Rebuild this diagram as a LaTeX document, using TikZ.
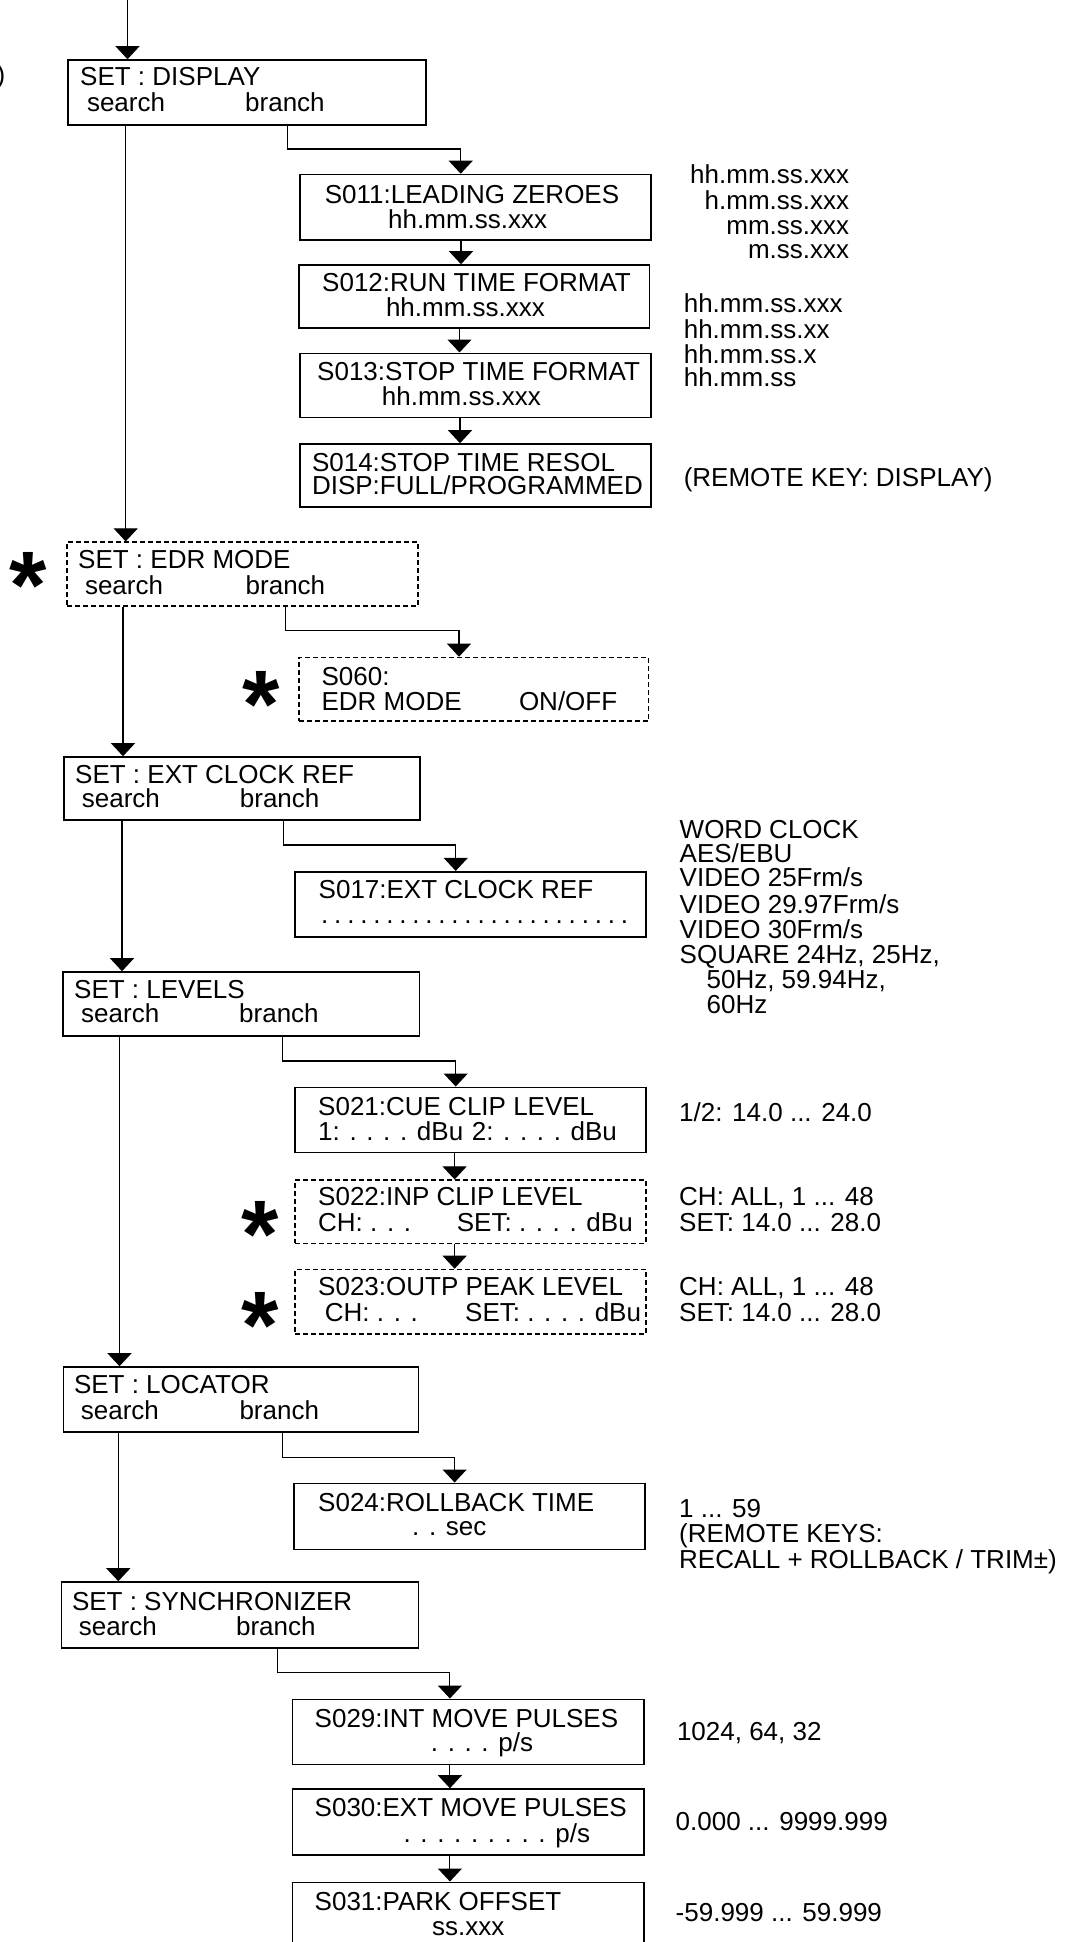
\documentclass[tikz,border=0pt]{standalone}
\usepackage{fontspec}
\setmainfont{Liberation Sans}
\usetikzlibrary{arrows.meta,fit}
\newcommand\fs{\fontsize{26}{30}\selectfont}
\newcommand\dotrow{\foreach \i in {1,...,24}{.\kern5.8pt}}
\tikzset{
 box/.style={draw, line width=1.6pt, inner sep=0pt},
 dbox/.style={draw, line width=1.2pt, dash pattern=on 5pt off 3pt, inner sep=0pt},
 arr/.style={line width=1.1pt, -{Triangle[width=24pt,length=13pt]}},
 t/.style={anchor=base west, inner sep=0pt, font=\fs},
 tr/.style={anchor=base east, inner sep=0pt, font=\fs},
 star/.style={anchor=base, inner sep=0pt, font=\fontsize{96}{96}\selectfont\bfseries},
}
\begin{document}
\begin{tikzpicture}[x=1pt,y=-1pt]
\fill[white] (0,0) rectangle (1072,1942);
\useasboundingbox (0,0) rectangle (1072,1942);

% ---------- boxes ----------
\node[box, fit={(68,60) (426,125)}] (display) {};
\node[dbox, fit={(67,542) (418,606)}] (edr) {};
\node[box, fit={(64,757) (420,820)}] (ext) {};
\node[box, fit={(63,972) (419.5,1036)}] (levels) {};
\node[box, fit={(63.6,1367) (418.4,1432)}] (locator) {};
\node[box, fit={(61.5,1582) (418.4,1648)}] (sync) {};

\node[box, fit={(300,174.5) (651,240)}] (s011) {};
\node[box, fit={(299,265) (649.5,328.3)}] (s012) {};
\node[box, fit={(300,353.3) (651,417.3)}] (s013) {};
\node[box, fit={(300,444) (651,506.7)}] (s014) {};
\node[dbox, fit={(299,657.3) (648.7,721)}] (s060) {};
\node[box, fit={(295,871.7) (646,936.7)}] (s017) {};
\node[box, fit={(295,1087.3) (646,1152.3)}] (s021) {};
\node[dbox, fit={(295,1180) (646,1243.3)}] (s022) {};
\node[dbox, fit={(295,1269.3) (646,1334)}] (s023) {};
\node[box, fit={(294,1483.3) (644.7,1549.3)}] (s024) {};
\node[box, fit={(292.6,1699.3) (644,1764.3)}] (s029) {};
\node[box, fit={(292.6,1789) (644,1855)}] (s030) {};
\node[box, fit={(292.6,1882.3) (644,1980)}] (s031) {};

% ---------- connectors ----------
\coordinate (top) at (127.5,0);
\draw[arr] (top) -- (display.north -| top);

\coordinate (s1) at (125.7,0);
\coordinate (s2) at (123,0);
\coordinate (s3) at (122,0);
\coordinate (s4) at (119.5,0);
\coordinate (s5) at (118.3,0);
\draw[arr] (display.south -| s1) -- (edr.north -| s1);
\draw[arr] (edr.south -| s2) -- (ext.north -| s2);
\draw[arr] (ext.south -| s3) -- (levels.north -| s3);
\draw[arr] (levels.south -| s4) -- (locator.north -| s4);
\draw[arr] (locator.south -| s5) -- (sync.north -| s5);

\coordinate (b1a) at (287.5,149);   \coordinate (b1b) at (460.7,149);
\coordinate (b2a) at (285.7,630.7); \coordinate (b2b) at (459,630.7);
\coordinate (b3a) at (283.3,845);   \coordinate (b3b) at (455.7,845);
\coordinate (b4a) at (282.3,1061);  \coordinate (b4b) at (455.7,1061);
\coordinate (b5a) at (282.4,1457.3);\coordinate (b5b) at (454.6,1457.3);
\coordinate (b6a) at (277.6,1672.7);\coordinate (b6b) at (449.9,1672.7);
\draw[arr] (display.south -| b1a) -- (b1a) -- (b1b) -- (s011.north -| b1b);
\draw[arr] (edr.south -| b2a) -- (b2a) -- (b2b) -- (s060.north -| b2b);
\draw[arr] (ext.south -| b3a) -- (b3a) -- (b3b) -- (s017.north -| b3b);
\draw[arr] (levels.south -| b4a) -- (b4a) -- (b4b) -- (s021.north -| b4b);
\draw[arr] (locator.south -| b5a) -- (b5a) -- (b5b) -- (s024.north -| b5b);
\draw[arr] (sync.south -| b6a) -- (b6a) -- (b6b) -- (s029.north -| b6b);

\coordinate (c1) at (461,0);
\coordinate (c2) at (459.5,0);
\coordinate (c3) at (460,0);
\coordinate (c4) at (454.6,0);
\coordinate (c5) at (449.9,0);
\draw[arr] (s011.south -| c1) -- (s012.north -| c1);
\draw[arr] (s012.south -| c2) -- (s013.north -| c2);
\draw[arr] (s013.south -| c3) -- (s014.north -| c3);
\draw[arr] (s021.south -| c4) -- (s022.north -| c4);
\draw[arr] (s022.south -| c4) -- (s023.north -| c4);
\draw[arr] (s029.south -| c5) -- (s030.north -| c5);
\draw[arr] (s030.south -| c5) -- (s031.north -| c5);

% ---------- texts ----------
\node[anchor=base east, inner sep=0pt, font=\fs] (paren) at (5.5,84) {)};

\node[t] (ta1) at (80,86) {SET : DISPLAY};
\node[t] (ta2) at (86.8,112) {search};
\node[t] (ta3) at (245,112) {branch};

\node[t] (tb1) at (324.7,203.3) {S011:LEADING ZEROES};
\node[t] (tb2) at (388,228.3) {hh.mm.ss.xxx};
\node[t] (tc1) at (322,291.7) {S012:RUN TIME FORMAT};
\node[t] (tc2) at (385.8,316.7) {hh.mm.ss.xxx};
\node[t] (td1) at (317,380) {S013:STOP TIME FORMAT};
\node[t] (td2) at (381.7,405) {hh.mm.ss.xxx};
\node[t] (te1) at (311.8,471.7) {S014:STOP TIME RESOL};
\node[t] (te2) at (311.8,494) {DISP:FULL/PROGRAMMED};

\node[tr] (r1) at (849.3,183.3) {hh.mm.ss.xxx};
\node[tr] (r2) at (849.3,209.3) {h.mm.ss.xxx};
\node[tr] (r3) at (849.3,234.3) {mm.ss.xxx};
\node[tr] (r4) at (849.3,258.3) {m.ss.xxx};
\node[t] (r5) at (683.6,312.7) {hh.mm.ss.xxx};
\node[t] (r6) at (683.6,338.3) {hh.mm.ss.xx};
\node[t] (r7) at (683.6,363.3) {hh.mm.ss.x};
\node[t] (r8) at (683.6,386.7) {hh.mm.ss};
\node[t] (r9) at (683.6,486.5) {(REMOTE KEY: DISPLAY)};

\node[star] (st1) at (28,618) {*};
\node[t] (tf1) at (78,568.5) {SET : EDR MODE};
\node[t] (tf2) at (84.8,594.5) {search};
\node[t] (tf3) at (245.5,594.5) {branch};

\node[star] (st2) at (261.5,737) {*};
\node[t] (tg1) at (321.4,685) {S060:};
\node[t] (tg2) at (321.4,710) {EDR MODE};
\node[t] (tg3) at (518.8,710) {ON/OFF};

\node[t] (th1) at (75,783.3) {SET : EXT CLOCK REF};
\node[t] (th2) at (81.7,807.3) {search};
\node[t] (th3) at (239.7,807.3) {branch};

\node[t] (ti1) at (318.5,898.3) {S017:EXT CLOCK REF};
\node[t] (ti2) at (321,923.3) {\dotrow};

\node[t] (rw1) at (679.5,838.3) {WORD CLOCK};
\node[t] (rw2) at (679.5,862.3) {AES/EBU};
\node[t] (rw3) at (679.5,886.7) {VIDEO 25Frm/s};
\node[t] (rw4) at (679.5,913.3) {VIDEO 29.97Frm/s};
\node[t] (rw5) at (679.5,938.3) {VIDEO 30Frm/s};
\node[t] (rw6) at (679.5,963.3) {SQUARE 24Hz, 25Hz,};
\node[t] (rw7) at (706.4,988.3) {50Hz, 59.94Hz,};
\node[t] (rw8) at (706.4,1013.3) {60Hz};

\node[t] (tj1) at (74,998) {SET : LEVELS};
\node[t] (tj2) at (81,1022.7) {search};
\node[t] (tj3) at (239,1022.7) {branch};

\node[t] (tk1) at (318,1115) {S021:CUE CLIP LEVEL};
\node[t] (tk2) at (318,1140) {1: . . . . dBu};
\node[t] (tk3) at (471.7,1140) {2: . . . . dBu};
\node[t] (rk1) at (679,1121.7) {1/2: 14.0 ... 24.0};

\node[star] (st3) at (260,1267) {*};
\node[t] (tl1) at (318,1205) {S022:INP CLIP LEVEL};
\node[t] (tl2) at (318,1231.5) {CH: . . .};
\node[t] (tl3) at (456.7,1231.5) {SET: . . . . dBu};
\node[t] (rl1) at (679,1205) {CH: ALL, 1 ... 48};
\node[t] (rl2) at (679,1231.5) {SET: 14.0 ... 28.0};

\node[star] (st4) at (260,1358) {*};
\node[t] (tm1) at (318,1295) {S023:OUTP PEAK LEVEL};
\node[t] (tm2) at (324.7,1321.5) {CH: . . .};
\node[t] (tm3) at (465,1321.5) {SET: . . . . dBu};
\node[t] (rm1) at (679,1295) {CH: ALL, 1 ... 48};
\node[t] (rm2) at (679,1321.5) {SET: 14.0 ... 28.0};

\node[t] (tn1) at (73.8,1393) {SET : LOCATOR};
\node[t] (tn2) at (80.7,1419.3) {search};
\node[t] (tn3) at (239.3,1419.3) {branch};

\node[t] (to1) at (318,1511.7) {S024:ROLLBACK TIME};
\node[t] (to2) at (412,1535) {. . sec};
\node[t] (ro1) at (679,1517.3) {1 ... 59};
\node[t] (ro2) at (679,1542.7) {(REMOTE KEYS:};
\node[t] (ro3) at (679,1568.3) {RECALL + ROLLBACK / TRIM±)};

\node[t] (tp1) at (71.8,1610) {SET : SYNCHRONIZER};
\node[t] (tp2) at (78.6,1635) {search};
\node[t] (tp3) at (235.9,1635) {branch};

\node[t] (tq1) at (314.5,1727.3) {S029:INT MOVE PULSES};
\node[t] (tq2) at (430.7,1751.7) {. . . . p/s};
\node[t] (rq1) at (676.8,1740) {1024, 64, 32};

\node[t] (tr1) at (314.5,1816.7) {S030:EXT MOVE PULSES};
\node[t] (tr2) at (403.4,1842.3) {. . . . . . . . . p/s};
\node[t] (rr1) at (675.5,1830.7) {0.000 ... 9999.999};

\node[t] (ts1) at (314.5,1910) {S031:PARK OFFSET};
\node[t] (ts2) at (432,1935) {ss.xxx};
\node[t] (rs1) at (675.5,1921.7) {-59.999 ... 59.999};
\end{tikzpicture}
\end{document}
